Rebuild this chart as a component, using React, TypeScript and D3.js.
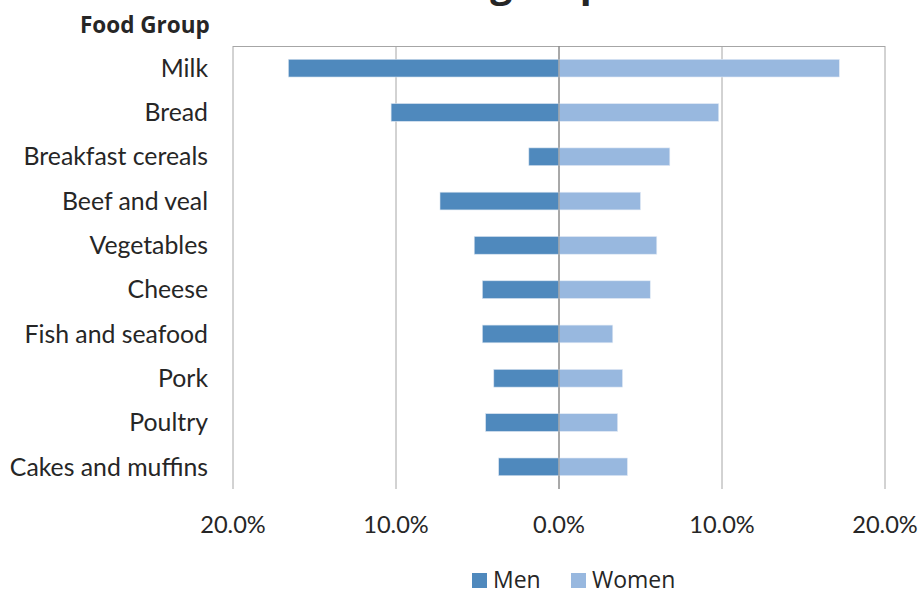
import React from "react";
import * as d3 from "d3";

const categories = [
  "Milk",
  "Bread",
  "Breakfast cereals",
  "Beef and veal",
  "Vegetables",
  "Cheese",
  "Fish and seafood",
  "Pork",
  "Poultry",
  "Cakes and muffins",
];
const menValues = [16.6, 10.3, 1.85, 7.3, 5.2, 4.7, 4.7, 4.0, 4.5, 3.7];
const womenValues = [17.2, 9.8, 6.8, 5.0, 6.0, 5.6, 3.3, 3.9, 3.6, 4.2];
const xTicks = [-20, -10, 0, 10, 20];
const seriesNames = ["Men", "Women"];

const WIDTH = 920;
const HEIGHT = 590;
const plot = { left: 233, right: 885, top: 46, bottom: 489 };
const menColor = "#4f89bd";
const womenColor = "#98b8df";
const gridColor = "#a6a6a6";
const labelFont = "Lato, 'Open Sans', sans-serif";
const uiFont = "'Open Sans', sans-serif";

export default function App() {
  const x = d3.scaleLinear().domain([-20, 20]).range([plot.left, plot.right]);
  const y = d3
    .scaleBand<string>()
    .domain(categories)
    .range([plot.top, plot.bottom])
    .paddingInner(0.6)
    .paddingOuter(0.3);
  const fmt = (v: number) => d3.format(".1f")(Math.abs(v)) + "%";

  return (
    <svg
      width={WIDTH}
      height={HEIGHT}
      style={{ position: "absolute", left: 0, top: 0, background: "#fff" }}
    >
      {/* chart title, set mostly above the frame */}
      <text
        x={284}
        y={-3}
        fontFamily={uiFont}
        fontWeight={700}
        fontSize={39}
        fill="#262626"
      >
        Main food groups
      </text>

      {/* vertical axis title */}
      <text
        x={80}
        y={33}
        fontFamily={uiFont}
        fontWeight={700}
        fontSize={22.5}
        fill="#262626"
      >
        Food Group
      </text>

      {/* plot frame top */}
      <line
        x1={plot.left}
        x2={plot.right}
        y1={plot.top + 0.5}
        y2={plot.top + 0.5}
        stroke={gridColor}
        strokeWidth={1}
      />

      {/* vertical gridlines */}
      {xTicks.map((t) => (
        <line
          key={t}
          x1={x(t)}
          x2={x(t)}
          y1={plot.top}
          y2={plot.bottom}
          stroke={t === 0 ? "#8c8c8c" : gridColor}
          strokeWidth={1}
        />
      ))}

      {/* bars */}
      {categories.map((c, i) => (
        <g key={c}>
          <rect
            x={x(-menValues[i])}
            y={y(c)}
            width={x(0) - x(-menValues[i])}
            height={y.bandwidth()}
            fill={menColor}
            stroke="#d6e2ef"
            strokeWidth={0.6}
          />
          <rect
            x={x(0)}
            y={y(c)}
            width={x(womenValues[i]) - x(0)}
            height={y.bandwidth()}
            fill={womenColor}
            stroke="#e4ecf6"
            strokeWidth={0.6}
          />
        </g>
      ))}

      {/* zero line drawn over the bars */}
      <line
        x1={x(0)}
        x2={x(0)}
        y1={plot.top}
        y2={plot.bottom}
        stroke="#8c8c8c"
        strokeWidth={1}
      />

      {/* category labels */}
      {categories.map((c) => (
        <text
          key={c}
          x={208}
          y={(y(c) as number) + y.bandwidth() / 2}
          dy="0.35em"
          textAnchor="end"
          fontFamily={labelFont}
          fontSize={24.8}
          fill="#262626"
        >
          {c}
        </text>
      ))}

      {/* x tick labels */}
      {xTicks.map((t) => (
        <text
          key={t}
          x={x(t)}
          y={525}
          dy="0.35em"
          textAnchor="middle"
          fontFamily={labelFont}
          fontSize={23.6}
          fill="#262626"
        >
          {fmt(t)}
        </text>
      ))}

      {/* legend */}
      {seriesNames.map((s, i) => {
        const lx = [472, 571][i];
        return (
          <g key={s}>
            <rect
              x={lx}
              y={573}
              width={15}
              height={15}
              fill={i === 0 ? menColor : womenColor}
            />
            <text
              x={lx + 21}
              y={580}
              dy="0.35em"
              fontFamily={uiFont}
              fontSize={23}
              fill="#262626"
            >
              {s}
            </text>
          </g>
        );
      })}
    </svg>
  );
}
